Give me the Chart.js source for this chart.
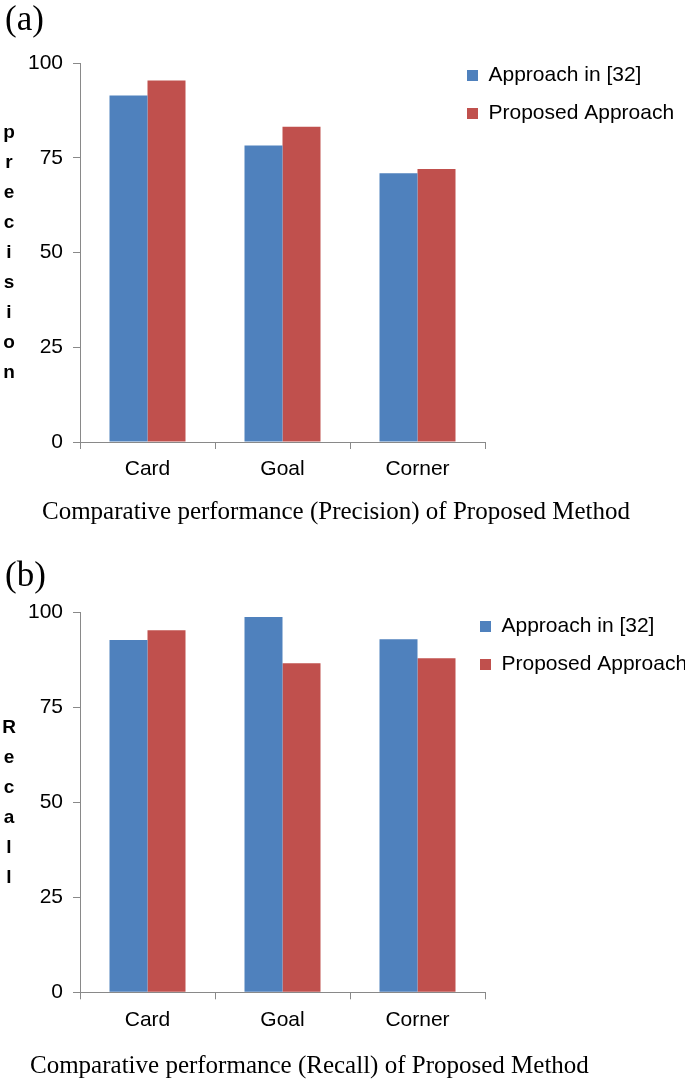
<!DOCTYPE html>
<html>
<head>
<meta charset="utf-8">
<script src="https://cdn.jsdelivr.net/npm/chart.js@4.4.0/dist/chart.umd.min.js"></script>
<style>
  body { margin: 0; width: 685px; height: 1080px; background: #fff; position: relative; overflow: hidden; font-family: 'Liberation Serif', 'Times New Roman', serif; }
  .box { position: absolute; left: 0; width: 685px; height: 500px; }
  .lbl { position: absolute; font-size: 35px; line-height: 1; color: #000; }
  .cap { position: absolute; font-size: 25px; line-height: 1; color: #000; white-space: nowrap; }
</style>
</head>
<body>
<div class="box" style="top:0"><canvas id="precisionChart"></canvas></div>
<div class="box" style="top:560px"><canvas id="recallChart"></canvas></div>
<div class="lbl" style="left:5px;top:1px">(a)</div>
<div class="cap" style="left:42px;top:498px">Comparative performance (Precision) of Proposed Method</div>
<div class="lbl" style="left:5px;top:557px">(b)</div>
<div class="cap" style="left:30px;top:1052px">Comparative performance (Recall) of Proposed Method</div>

<script>
var categories = ['Card', 'Goal', 'Corner'];
var seriesNames = ['Approach in [32]', 'Proposed Approach'];
var precisionOld = [91.4, 78.2, 70.9];
var precisionNew = [95.4, 83.2, 72.0];
var recallOld = [92.8, 98.9, 93.0];
var recallNew = [95.4, 86.7, 88.0];
var yTicks = [0, 25, 50, 75, 100];

var sans = '"Liberation Sans", Arial, Helvetica, sans-serif';
var axisGrey = '#898989';

// y title written one letter per line, like the original
var stackedTitle = {
    id: 'stackedTitle',
    afterDraw: function (chart, args, opts) {
        var ctx = chart.ctx, area = chart.chartArea;
        var letters = opts.text.split('');
        var mid = (area.top + area.bottom) / 2;
        ctx.save();
        ctx.font = 'bold 19px ' + sans;
        ctx.fillStyle = '#000';
        ctx.textAlign = 'center';
        ctx.textBaseline = 'middle';
        letters.forEach(function (ch, i) {
            ctx.fillText(ch, 9, mid + (i - (letters.length - 1) / 2) * 30);
        });
        ctx.restore();
    }
};

// put the legend at the top right, over the free part of the plot
var legendSpot = {
    id: 'legendSpot',
    afterLayout: function (chart, args, opts) {
        var lg = chart.legend;
        lg.left = opts.left;
        lg.right = opts.left + lg.width;
        lg.top = opts.top;
        lg.bottom = opts.top + 120;
    }
};

function makeChart(id, oldVals, newVals, title, pad, spot) {
    var ctx = document.getElementById(id).getContext('2d');
    return new Chart(ctx, {
        type: 'bar',
        data: {
            labels: categories,
            datasets: [{
                label: seriesNames[0],
                data: oldVals,
                backgroundColor: '#4F81BD',
                borderWidth: 0
            }, {
                label: seriesNames[1],
                data: newVals,
                backgroundColor: '#C0504D',
                borderWidth: 0
            }]
        },
        options: {
            responsive: true,
            maintainAspectRatio: false,
            animation: false,
            events: [],
            layout: { padding: { left: 0, right: 200, top: pad.top, bottom: pad.bottom } },
            datasets: { bar: { categoryPercentage: 0.563, barPercentage: 1 } },
            plugins: {
                legend: {
                    position: 'chartArea',
                    align: 'start',
                    labels: {
                        boxWidth: 11,
                        boxHeight: 11,
                        padding: 17,
                        color: '#000',
                        font: { size: 21, family: sans }
                    }
                },
                tooltip: { enabled: false },
                stackedTitle: { text: title },
                legendSpot: spot
            },
            scales: {
                x: {
                    grid: { offset: true, drawOnChartArea: false, tickLength: 7, color: axisGrey },
                    border: { color: axisGrey },
                    ticks: { color: '#000', padding: 8, maxRotation: 0, font: { size: 21, family: sans } }
                },
                y: {
                    min: 0,
                    max: 100,
                    afterBuildTicks: function (scale) {
                        scale.ticks = yTicks.map(function (v) { return { value: v }; });
                    },
                    afterFit: function (scale) { scale.width = 80; },
                    grid: { drawOnChartArea: false, tickLength: 7, color: axisGrey },
                    border: { color: axisGrey },
                    ticks: { color: '#000', padding: 10, font: { size: 21, family: sans } }
                }
            }
        },
        plugins: [stackedTitle, legendSpot]
    });
}

makeChart('precisionChart', precisionOld, precisionNew, 'precision',
    { top: 63, bottom: 9.8 }, { left: 450, top: 48 });
makeChart('recallChart', recallOld, recallNew, 'Recall',
    { top: 52.7, bottom: 19.5 }, { left: 463, top: 39 });
</script>
</body>
</html>
